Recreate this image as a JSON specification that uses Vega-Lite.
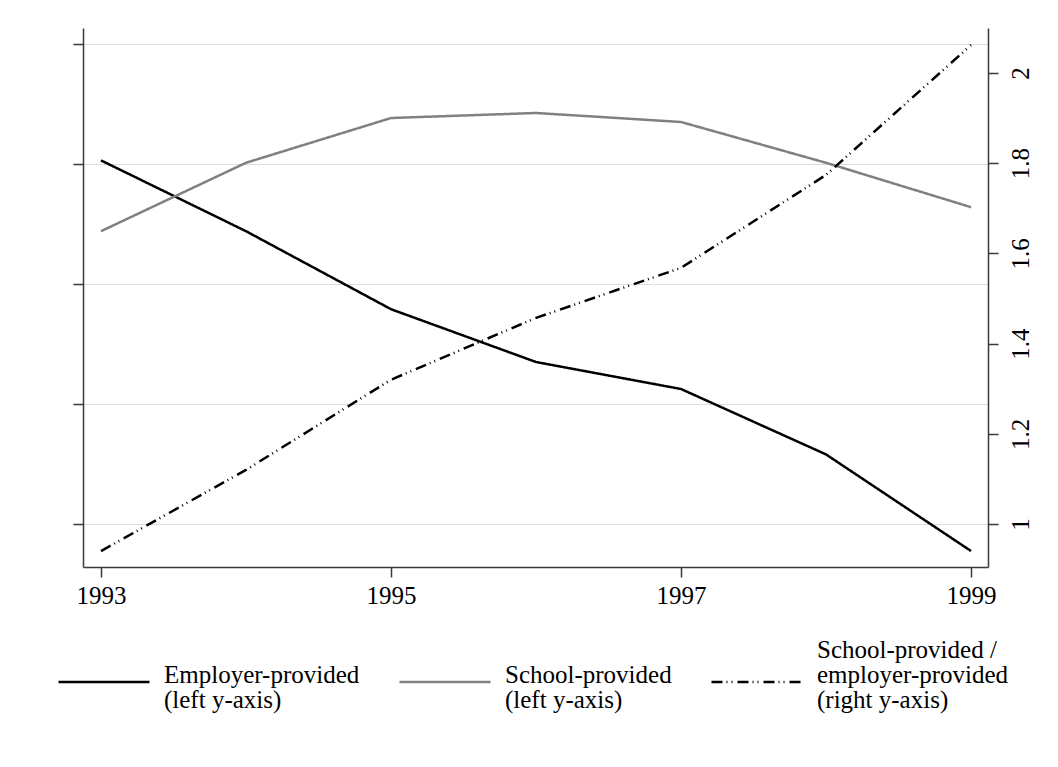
{
  "$schema": "https://vega.github.io/schema/vega-lite/v6.json",
  "autosize": {"type": "none"},
  "padding": {"left": 83, "top": 28, "right": 70, "bottom": 200},
  "width": 905,
  "height": 539,
  "background": "white",
  "config": {
    "view": {"stroke": null},
    "font": "Liberation Serif",
    "axis": {
      "labelFont": "Liberation Serif",
      "labelFontSize": 25,
      "labelColor": "black",
      "domainColor": "#3a3a3a",
      "domainWidth": 1.5,
      "tickColor": "#3a3a3a",
      "tickWidth": 1.5,
      "tickSize": 10,
      "title": null
    },
    "legend": {
      "labelFont": "Liberation Serif",
      "labelFontSize": 25,
      "labelColor": "black",
      "labelLimit": 0
    }
  },
  "data": {
    "values": [
      {"year": 1993, "series": "Employer-provided (left y-axis)", "left": 4.03},
      {"year": 1994, "series": "Employer-provided (left y-axis)", "left": 3.44},
      {"year": 1995, "series": "Employer-provided (left y-axis)", "left": 2.79},
      {"year": 1996, "series": "Employer-provided (left y-axis)", "left": 2.35},
      {"year": 1997, "series": "Employer-provided (left y-axis)", "left": 2.125},
      {"year": 1998, "series": "Employer-provided (left y-axis)", "left": 1.58},
      {"year": 1999, "series": "Employer-provided (left y-axis)", "left": 0.775},
      {"year": 1993, "series": "School-provided (left y-axis)", "left": 3.44},
      {"year": 1994, "series": "School-provided (left y-axis)", "left": 4.01},
      {"year": 1995, "series": "School-provided (left y-axis)", "left": 4.383},
      {"year": 1996, "series": "School-provided (left y-axis)", "left": 4.425},
      {"year": 1997, "series": "School-provided (left y-axis)", "left": 4.35},
      {"year": 1998, "series": "School-provided (left y-axis)", "left": 4.01},
      {"year": 1999, "series": "School-provided (left y-axis)", "left": 3.64},
      {"year": 1993, "series": "School-provided / employer-provided (right y-axis)", "right": 0.94},
      {"year": 1994, "series": "School-provided / employer-provided (right y-axis)", "right": 1.12},
      {"year": 1995, "series": "School-provided / employer-provided (right y-axis)", "right": 1.32},
      {"year": 1996, "series": "School-provided / employer-provided (right y-axis)", "right": 1.457},
      {"year": 1997, "series": "School-provided / employer-provided (right y-axis)", "right": 1.568},
      {"year": 1998, "series": "School-provided / employer-provided (right y-axis)", "right": 1.774},
      {"year": 1999, "series": "School-provided / employer-provided (right y-axis)", "right": 2.062}
    ]
  },
  "encoding": {
    "x": {
      "field": "year",
      "type": "quantitative",
      "scale": {"domain": [1992.876, 1999.117], "nice": false, "zero": false},
      "axis": {
        "values": [1993, 1995, 1997, 1999],
        "format": "d",
        "grid": false,
        "labelPadding": 6,
        "labelFlush": false
      }
    },
    "color": {
      "field": "series",
      "type": "nominal",
      "scale": {
        "domain": [
          "Employer-provided (left y-axis)",
          "School-provided (left y-axis)",
          "School-provided / employer-provided (right y-axis)"
        ],
        "range": ["black", "#808080", "black"]
      },
      "legend": {
        "title": null,
        "orient": "none",
        "legendX": -26,
        "legendY": 607,
        "direction": "horizontal",
        "columns": 3,
        "columnPadding": 34,
        "symbolType": "stroke",
        "symbolSize": 8281,
        "symbolStrokeWidth": 2.5,
        "labelOffset": 13,
        "labelBaseline": "middle",
        "labelExpr": "datum.label == 'Employer-provided (left y-axis)' ? ['Employer-provided', '(left y-axis)'] : datum.label == 'School-provided (left y-axis)' ? ['School-provided', '(left y-axis)'] : ['School-provided /', 'employer-provided', '(right y-axis)']",
        "encode": {
          "labels": {
            "update": {
              "lineHeight": {"value": 25},
              "dy": {"signal": "datum.index == 2 ? -32 : -7"}
            }
          }
        }
      }
    },
    "strokeDash": {
      "field": "series",
      "type": "nominal",
      "scale": {
        "domain": [
          "Employer-provided (left y-axis)",
          "School-provided (left y-axis)",
          "School-provided / employer-provided (right y-axis)"
        ],
        "range": [[1, 0], [1, 0], [11, 4, 1, 4, 1, 5]]
      },
      "legend": null
    }
  },
  "layer": [
    {
      "transform": [{"filter": "datum.left != null"}],
      "mark": {"type": "line", "strokeWidth": 2.5, "strokeCap": "butt"},
      "encoding": {
        "y": {
          "field": "left",
          "type": "quantitative",
          "scale": {"domain": [0.642, 5.133], "nice": false, "zero": false},
          "axis": {
            "orient": "left",
            "values": [1, 2, 3, 4, 5],
            "labels": false,
            "grid": true,
            "gridColor": "#dedede",
            "gridWidth": 1.2
          }
        }
      }
    },
    {
      "transform": [{"filter": "datum.right != null"}],
      "mark": {"type": "line", "strokeWidth": 2.5, "strokeCap": "butt"},
      "encoding": {
        "y": {
          "field": "right",
          "type": "quantitative",
          "scale": {"domain": [0.9047, 2.0998], "nice": false, "zero": false},
          "axis": {
            "orient": "right",
            "values": [1, 1.2, 1.4, 1.6, 1.8, 2],
            "format": "~g",
            "grid": false,
            "labelAngle": 270,
            "labelAlign": "center",
            "labelBaseline": "top",
            "labelPadding": 10
          }
        }
      }
    }
  ],
  "resolve": {"scale": {"y": "independent"}}
}
